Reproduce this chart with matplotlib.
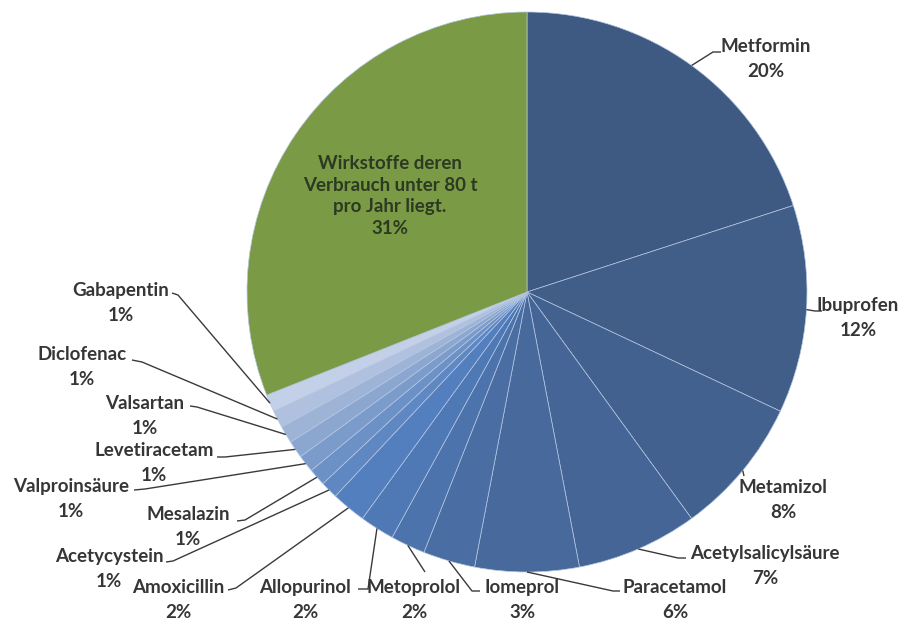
#!/usr/bin/env python3
"""
Pie chart of pharmaceutical active ingredient consumption shares,
with leader-line labels around the pie.
"""

import matplotlib
matplotlib.use("Agg")
import numpy as np
import matplotlib.pyplot as plt

W, H = 907, 621

names = ["Metformin", "Ibuprofen", "Metamizol", "Acetylsalicylsäure",
         "Paracetamol", "Iomeprol", "Metoprolol", "Allopurinol",
         "Amoxicillin", "Acetycystein", "Mesalazin", "Valproinsäure",
         "Levetiracetam", "Valsartan", "Diclofenac", "Gabapentin",
         "Wirkstoffe deren\nVerbrauch unter 80 t\npro Jahr liegt."]
shares = [20, 12, 8, 7, 6, 3, 2, 2, 2, 1, 1, 1, 1, 1, 1, 1, 31]
colors = ["#3e5a82", "#405e88", "#42618f", "#456596", "#47699c", "#4a6ea4",
          "#4c73ac", "#4f79b5", "#537fbe", "#5f88c3", "#6c91c6", "#7b9bcb",
          "#8ba7d0", "#9db4d7", "#afc1de", "#c3d0e7", "#7a9a46"]

# label centre (name + percent), leader knee and leader end, in pixels from top-left
label_xy = [(766, 59), (858, 318), (783, 500), (765, 566), (675, 600),
            (522, 600), (414, 600), (305, 600), (178, 600), (109, 569),
            (188, 527), (71, 499), (154, 463), (145, 416), (82, 367),
            (121, 303)]
knee_xy = [(713, 52), (815, 311), (744, 476), (678, 558), (613, 591),
           (472, 591), (425, 572), (368, 589), (236, 588), (173, 561),
           (245, 520), (145, 489), (225, 457), (197, 407), (142, 362),
           (178, 295)]
end_xy = [(721, 52), (822, 311), (744, 476), (686, 558), (620, 591),
          (480, 591), (425, 572), (358, 589), (228, 590), (166, 562),
          (237, 521), (134, 490), (217, 457), (190, 406), (132, 360),
          (172, 293)]

CENTER = (527, H - 292)
RADIUS = 280

FONT = dict(family=["Lato", "DejaVu Sans"], fontweight="bold", fontsize=13.5,
            color="#363636")


def to_data(p):
    return p[0], H - p[1]


fig = plt.figure(figsize=(W / 100, H / 100), dpi=100)
ax = fig.add_axes([0, 0, 1, 1])

wedges, _ = ax.pie(shares, colors=colors, startangle=90, counterclock=False,
                   center=CENTER, radius=RADIUS,
                   wedgeprops=dict(edgecolor="#b4c6e2", linewidth=0.5))

for i, w in enumerate(wedges[:-1]):
    ang = np.deg2rad((w.theta1 + w.theta2) / 2)
    start = (CENTER[0] + RADIUS * np.cos(ang), CENTER[1] + RADIUS * np.sin(ang))
    kx, ky = to_data(knee_xy[i])
    ex, ey = to_data(end_xy[i])
    ax.plot([start[0], kx, ex], [start[1], ky, ey], color="#3a3a3a", lw=1.0,
            solid_capstyle="butt")
    lx, ly = to_data(label_xy[i])
    ax.text(lx, ly, f"{names[i]}\n{shares[i]}%", ha="center", va="center",
            multialignment="center", linespacing=1.55, **FONT)

# label inside the green "others" wedge
ax.text(390, H - 196, f"{names[-1]}\n{shares[-1]}%", ha="center", va="center",
        multialignment="center", linespacing=1.35,
        **{**FONT, "color": "#2c3a22"})

ax.set_xlim(0, W)
ax.set_ylim(0, H)
ax.set_aspect("equal")
ax.axis("off")

fig.savefig("out.png", dpi=100, facecolor="white")
